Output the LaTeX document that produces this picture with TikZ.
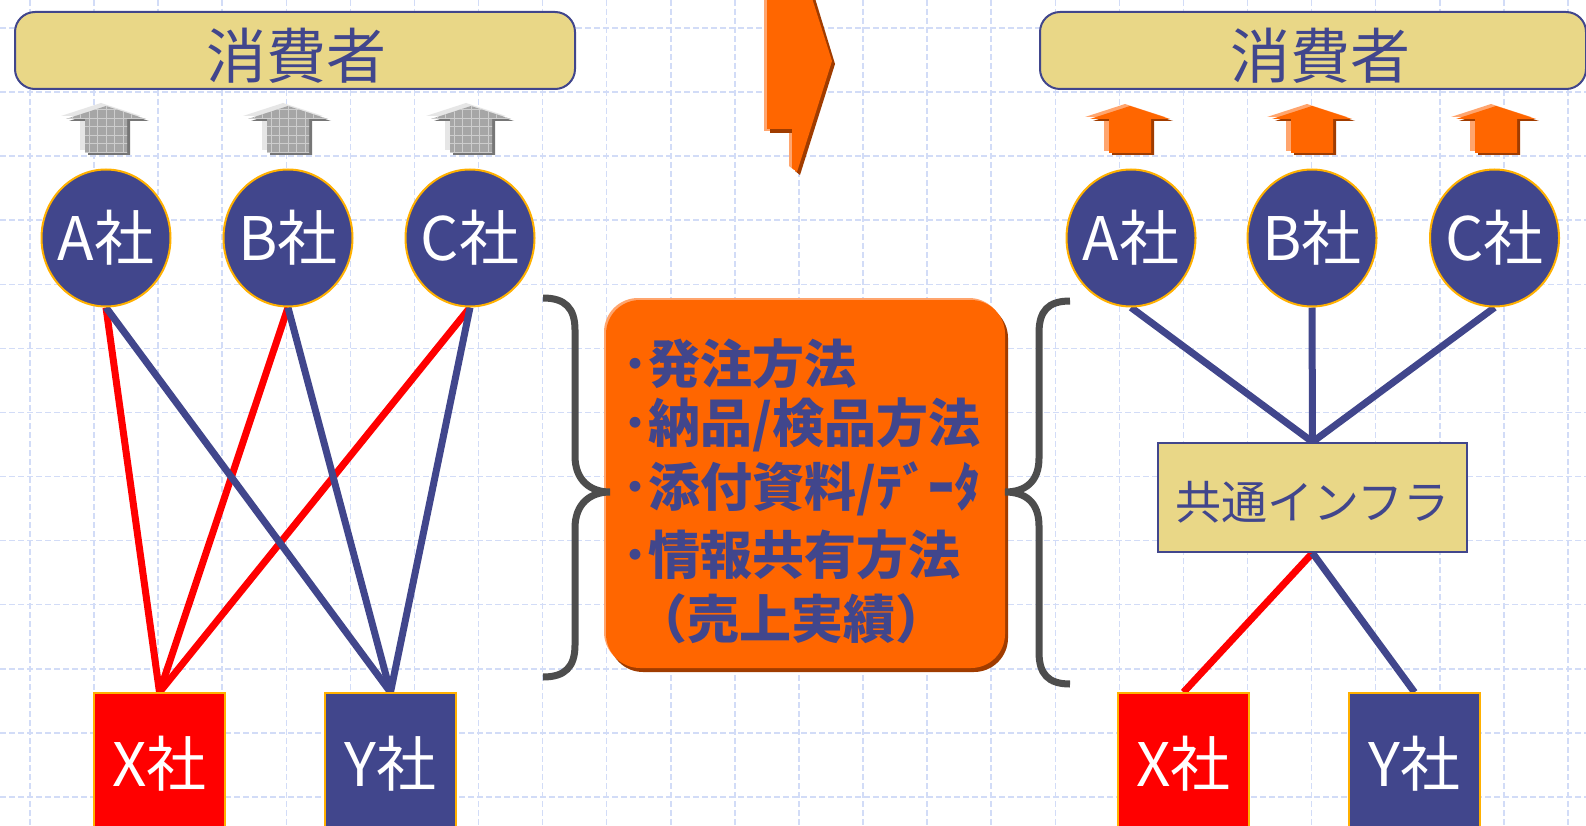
\documentclass[tikz,border=0pt]{standalone}
\usepackage{fontspec}
\newfontfamily\cjk{Noto Sans CJK JP}
\usetikzlibrary{shapes.geometric}
\pgfdeclarelayer{bg}
\pgfsetlayers{bg,main}
\definecolor{navy}{RGB}{65,70,140}
\definecolor{khaki}{RGB}{233,215,135}
\definecolor{orng}{RGB}{255,102,0}
\definecolor{orngdark}{RGB}{160,60,0}
\definecolor{orngl}{RGB}{255,165,110}
\definecolor{gridc}{RGB}{210,220,247}
\definecolor{gold}{RGB}{255,176,0}
\definecolor{bracec}{RGB}{77,77,77}
\definecolor{arrgray}{RGB}{166,166,166}
\definecolor{arrgrayd}{RGB}{118,118,118}
\definecolor{arrgrayl}{RGB}{230,230,230}
\definecolor{arrgrayg}{RGB}{205,205,205}
\newcommand\arrowShape{(0,106) -- (40,119) -- (21,119) -- (21,153) -- (-21,153) -- (-21,119) -- (-40,119) -- cycle}
\newcommand\grayArrow[1]{%
  \begin{scope}[shift={(#1,0)}]
    \fill[arrgrayl] [shift={(-5,-3)}] \arrowShape;
    \fill[arrgrayd] [shift={(3,2)}] \arrowShape;
    \fill[arrgray] \arrowShape;
    \begin{scope}
      \clip \arrowShape;
      \foreach \k in {-5,...,5} \draw[arrgrayg, line width=1pt] ({\k*8.5},100) -- ({\k*8.5},160);
      \foreach \k in {0,...,7} \draw[arrgrayg, line width=1pt] (-45,{110+\k*8.5}) -- (45,{110+\k*8.5});
    \end{scope}
  \end{scope}}
\newcommand\orangeArrow[1]{%
  \begin{scope}[shift={(#1,0)}]
    \fill[orngl] [shift={(-5,-2)}] \arrowShape;
    \fill[orngdark] [shift={(3,2)}] \arrowShape;
    \fill[orng] \arrowShape;
  \end{scope}}
\begin{document}
\begin{tikzpicture}[x=1pt,y=-1pt,
  gridline/.style={gridc, line width=1.5pt, dash pattern=on 6pt off 3pt},
  company/.style={ellipse, fill=navy, draw=gold, line width=2pt, minimum width=129pt, minimum height=137pt, inner sep=0pt},
  complabel/.style={text=white, inner sep=0pt, font=\cjk\fontsize{60}{72}\selectfont},
  firm/.style={rectangle, draw=gold, line width=1.5pt, minimum width=131pt, minimum height=142pt, inner sep=0pt, text=white, font=\cjk\fontsize{60}{72}\selectfont},
  consbox/.style={rectangle, rounded corners=20pt, fill=khaki, draw=navy, line width=2pt, inner sep=0pt},
  constext/.style={text=navy, inner sep=0pt, font=\cjk\fontsize{60}{72}\selectfont},
  infrabox/.style={rectangle, fill=khaki, draw=navy, line width=2pt, minimum width=309pt, minimum height=109pt, inner sep=0pt},
  infratext/.style={text=navy, inner sep=0pt, font=\cjk\fontsize{46}{55}\selectfont},
  redline/.style={red, line width=7pt},
  blueline/.style={navy, line width=7pt},
  brace/.style={bracec, line width=7pt},
  itemtext/.style={anchor=west, inner sep=0pt, text=navy, font=\cjk\bfseries\fontsize{52}{62}\selectfont}]
\clip (0,0) rectangle (1586,826);
% grid
\begin{pgfonlayer}{bg}
\fill[white] (0,0) rectangle (1586,826);
\foreach \i in {0,...,24} \draw[gridline] ({30+64.08*\i},0) -- ({30+64.08*\i},826);
\foreach \j in {0,...,12} \draw[gridline] (0,{28+64.08*\j}) -- (1586,{28+64.08*\j});
\end{pgfonlayer}

% consumer boxes
\node[consbox, minimum width=560pt, minimum height=77pt] (cons1) at (295,50.5) {};
\node[constext] (cons1t) at (296,56) {消費者};
\node[consbox, minimum width=546pt, minimum height=77pt] (cons2) at (1313,50.5) {};
\node[constext] (cons2t) at (1320,56) {消費者};

% small arrows
\grayArrow{106}
\grayArrow{288}
\grayArrow{471}
\orangeArrow{1130}
\orangeArrow{1312}
\orangeArrow{1496}

% middle top arrow
\fill[orngl] (764,-5) -- (808,-5) -- (829,60) -- (794,170) -- (789,166) -- (789,131) -- (764,131) -- cycle;
\fill[orngdark] (770,-5) -- (814,-5) -- (835,64) -- (800,175) -- (795,171) -- (795,133) -- (770,133) -- cycle;
\fill[orng] (767,-5) -- (811,-5) -- (832,61) -- (797,172) -- (792,168) -- (792,129) -- (767,129) -- cycle;

% left companies
\node[company, label={[complabel]center:A社}] (A1) at (106,238) {};
\node[company, label={[complabel]center:B社}] (B1) at (288,238) {};
\node[company, label={[complabel]center:C社}] (C1) at (470,238) {};
\node[firm, fill=red] (X1) at (159.5,764) {X社};
\node[firm, fill=navy] (Y1) at (390.5,764) {Y社};

% right companies
\node[company, label={[complabel]center:A社}] (A2) at (1131,238) {};
\node[company, label={[complabel]center:B社}] (B2) at (1312,238) {};
\node[company, label={[complabel]center:C社}] (C2) at (1494.5,238) {};
\node[infrabox, label={[infratext, yshift=-5pt]center:共通インフラ}] (infra) at (1312.5,497.5) {};
\node[firm, fill=red] (X2) at (1183.5,764) {X社};
\node[firm, fill=navy] (Y2) at (1414.5,764) {Y社};

% connectors
\begin{pgfonlayer}{bg}
\draw[redline] (A1.south) -- (X1.north);
\draw[redline] (B1.south) -- (X1.north);
\draw[redline] (C1.south) -- (X1.north);
\draw[blueline] (A1.south) -- (Y1.north);
\draw[blueline] (B1.south) -- (Y1.north);
\draw[blueline] (C1.south) -- (Y1.north);
\draw[blueline] (A2.south) -- (infra.north);
\draw[blueline] (B2.south) -- (infra.north);
\draw[blueline] (C2.south) -- (infra.north);
\draw[redline] (infra.south) -- (X2.north);
\draw[blueline] (infra.south) -- (Y2.north);
\end{pgfonlayer}

% info box
\fill[orngdark, rounded corners=34pt] (609,304) rectangle (1008,672);
\fill[orngl, rounded corners=34pt] (604,298) rectangle (1003,666);
\node[rectangle, rounded corners=34pt, fill=orng, minimum width=399pt, minimum height=368pt, inner sep=0pt] (info) at (805.5,484) {};
\node[itemtext] (t1) at (622,364) {･発注方法};
\node[itemtext] (t2) at (622,425) {･納品/検品方法};
\node[itemtext] (t3) at (622,489) {･添付資料/ﾃﾞｰﾀ};
\node[itemtext] (t4) at (622,555) {･情報共有方法};
\node[itemtext] (t5) at (635,619) {（売上実績）};

% braces
\draw[brace] (543,298) .. controls (565,298) and (575,308) .. (575,330) -- (575,456) .. controls (575,480) and (590,492) .. (610,492) .. controls (590,492) and (575,504) .. (575,528) -- (575,645) .. controls (575,667) and (565,677) .. (543,677);
\draw[brace] (1070,301) .. controls (1048,301) and (1039,311) .. (1039,333) -- (1039,458) .. controls (1039,482) and (1025,492) .. (1005,492) .. controls (1025,492) and (1039,502) .. (1039,526) -- (1039,652) .. controls (1039,674) and (1048,684) .. (1070,684);
\end{tikzpicture}
\end{document}
